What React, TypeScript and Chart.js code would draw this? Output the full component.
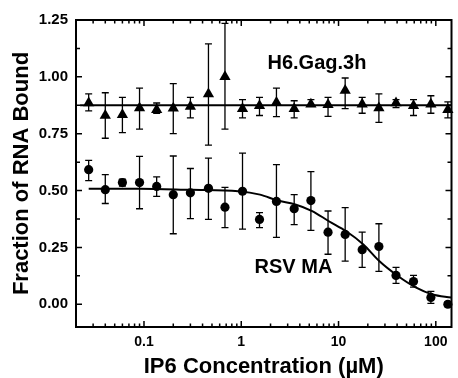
import React, { useEffect, useRef } from "react";
import { Chart, registerables } from "chart.js";

Chart.register(...registerables);

// IP6 concentration (µM) for every measured point
const CONC = [0.027, 0.04, 0.06, 0.09, 0.135, 0.2, 0.3, 0.46, 0.68, 1.03, 1.54, 2.3, 3.5, 5.2, 7.8, 11.7, 17.5, 26, 39, 59, 89, 133];

// H6.Gag.3h (triangles)
const GAG_Y = [0.885, 0.83, 0.833, 0.863, 0.855, 0.862, 0.87, 0.925, 1.0, 0.86, 0.873, 0.887, 0.86, 0.88, 0.877, 0.94, 0.88, 0.863, 0.885, 0.873, 0.88, 0.855];
const GAG_HI = [0.925, 0.93, 0.91, 0.95, 0.885, 0.97, 0.91, 1.145, 1.235, 0.9, 0.91, 0.95, 0.895, 0.9, 0.91, 0.995, 0.91, 0.925, 0.9, 0.9, 0.917, 0.89];
const GAG_LO = [0.85, 0.73, 0.755, 0.77, 0.84, 0.75, 0.82, 0.7, 0.77, 0.82, 0.83, 0.825, 0.82, 0.87, 0.826, 0.86, 0.84, 0.8, 0.865, 0.83, 0.84, 0.82];
const GAG_FIT_X = [0.022, 145];
const GAG_FIT_Y = [0.875, 0.875];

// RSV MA (circles)
const MA_Y = [0.592, 0.504, 0.535, 0.535, 0.518, 0.482, 0.49, 0.51, 0.427, 0.497, 0.373, 0.452, 0.42, 0.456, 0.317, 0.307, 0.24, 0.254, 0.127, 0.1, 0.03, 0.0];
const MA_HI = [0.633, 0.57, 0.55, 0.65, 0.56, 0.652, 0.597, 0.643, 0.514, 0.665, 0.403, 0.614, 0.482, 0.583, 0.41, 0.425, 0.317, 0.354, 0.162, 0.127, 0.057, 0.01];
const MA_LO = [0.544, 0.443, 0.52, 0.42, 0.474, 0.31, 0.377, 0.373, 0.337, 0.33, 0.337, 0.294, 0.35, 0.325, 0.22, 0.19, 0.162, 0.145, 0.092, 0.075, 0.004, -0.01];
const MA_FIT_X = [0.027, 0.09, 0.31, 0.93, 1.56, 2.37, 3.53, 5.36, 7.96, 12.1, 18.0, 26.2, 40.8, 62.1, 92.4, 144];
const MA_FIT_Y = [0.508, 0.508, 0.503, 0.497, 0.482, 0.456, 0.44, 0.41, 0.365, 0.32, 0.263, 0.19, 0.124, 0.074, 0.043, 0.03];

// axes
const X_TICKS = [0.1, 1, 10, 100];
const X_TICK_LABELS = ["0.1", "1", "10", "100"];
const X_MINOR = [0.03, 0.04, 0.05, 0.06, 0.07, 0.08, 0.09, 0.2, 0.3, 0.4, 0.5, 0.6, 0.7, 0.8, 0.9, 2, 3, 4, 5, 6, 7, 8, 9, 20, 30, 40, 50, 60, 70, 80, 90];
const Y_TICKS = [0, 0.25, 0.5, 0.75, 1.0, 1.25];
const Y_TICK_LABELS = ["0.00", "0.25", "0.50", "0.75", "1.00", "1.25"];
const Y_MINOR = [0.125, 0.375, 0.625, 0.875, 1.125];

// annotations
const LABEL_TEXTS = ["H6.Gag.3h", "RSV MA"];
const LABEL_X = [6.0, 3.44];
const LABEL_Y = [1.06, 0.162];

const FONT = "'Liberation Sans', Arial, Helvetica, sans-serif";

const pts = (xs: number[], ys: number[]) => xs.map((x, i) => ({ x, y: ys[i] }));

const errorBarPlugin = {
  id: "errorBars",
  beforeDatasetsDraw(chart: any) {
    const { ctx, scales } = chart;
    const xs = scales.x;
    const ys = scales.y;
    ctx.save();
    ctx.strokeStyle = "#000";
    ctx.lineWidth = 1.3;
    chart.data.datasets.forEach((ds: any) => {
      if (!ds.errLo) return;
      ds.data.forEach((p: any, i: number) => {
        const px = xs.getPixelForValue(p.x);
        const yl = ys.getPixelForValue(ds.errLo[i]);
        const yh = ys.getPixelForValue(ds.errHi[i]);
        ctx.beginPath();
        ctx.moveTo(px, yl);
        ctx.lineTo(px, yh);
        ctx.moveTo(px - 3.5, yl);
        ctx.lineTo(px + 3.5, yl);
        ctx.moveTo(px - 3.5, yh);
        ctx.lineTo(px + 3.5, yh);
        ctx.stroke();
      });
    });
    ctx.restore();
  },
};

const framePlugin = {
  id: "frame",
  afterDatasetsDraw(chart: any) {
    const { ctx, chartArea, scales } = chart;
    const { left, right, top, bottom } = chartArea;
    const xs = scales.x;
    const ys = scales.y;
    ctx.save();
    ctx.strokeStyle = "#000";
    ctx.lineWidth = 2;
    ctx.strokeRect(left, top, right - left, bottom - top);
    ctx.lineWidth = 1.5;
    ctx.beginPath();
    const xTick = (v: number, len: number) => {
      const px = xs.getPixelForValue(v);
      ctx.moveTo(px, bottom);
      ctx.lineTo(px, bottom - len);
      ctx.moveTo(px, top);
      ctx.lineTo(px, top + len);
    };
    const yTick = (v: number, len: number) => {
      const py = ys.getPixelForValue(v);
      ctx.moveTo(left, py);
      ctx.lineTo(left + len, py);
      ctx.moveTo(right, py);
      ctx.lineTo(right - len, py);
    };
    X_TICKS.forEach((v) => xTick(v, 6));
    X_MINOR.forEach((v) => xTick(v, 3.5));
    Y_TICKS.forEach((v) => yTick(v, 6));
    Y_MINOR.forEach((v) => yTick(v, 4));
    ctx.stroke();

    ctx.fillStyle = "#000";
    ctx.font = `bold 20px ${FONT}`;
    ctx.textAlign = "center";
    ctx.textBaseline = "middle";
    LABEL_TEXTS.forEach((t, i) => {
      ctx.fillText(t, xs.getPixelForValue(LABEL_X[i]), ys.getPixelForValue(LABEL_Y[i]));
    });
    ctx.restore();
  },
};

export default function App() {
  const ref = useRef<HTMLCanvasElement | null>(null);

  useEffect(() => {
    if (!ref.current) return;
    const chart = new Chart(ref.current, {
      type: "scatter",
      data: {
        datasets: [
          {
            label: "H6.Gag.3h fit",
            data: pts(GAG_FIT_X, GAG_FIT_Y),
            showLine: true,
            borderColor: "#000",
            borderWidth: 2,
            pointRadius: 0,
          } as any,
          {
            label: "RSV MA fit",
            data: pts(MA_FIT_X, MA_FIT_Y),
            showLine: true,
            borderColor: "#000",
            borderWidth: 2,
            pointRadius: 0,
            cubicInterpolationMode: "monotone",
          } as any,
          {
            label: "H6.Gag.3h",
            data: pts(CONC, GAG_Y),
            errLo: GAG_LO,
            errHi: GAG_HI,
            pointStyle: "triangle",
            pointRadius: 6.5,
            backgroundColor: "#000",
            borderColor: "#000",
            borderWidth: 0,
            clip: false,
          } as any,
          {
            label: "RSV MA",
            data: pts(CONC, MA_Y),
            errLo: MA_LO,
            errHi: MA_HI,
            pointStyle: "circle",
            pointRadius: 4.6,
            backgroundColor: "#000",
            borderColor: "#000",
            borderWidth: 0,
            clip: false,
          } as any,
        ],
      },
      options: {
        animation: false,
        responsive: false,
        layout: { padding: { top: 20, right: 2, left: 0, bottom: 0 } },
        plugins: { legend: { display: false }, tooltip: { enabled: false } },
        scales: {
          x: {
            type: "logarithmic",
            min: 0.02,
            max: 145,
            afterBuildTicks: (s: any) => {
              s.ticks = X_TICKS.map((v) => ({ value: v }));
            },
            afterFit: (s: any) => {
              s.height = 51;
            },
            grid: { display: false, drawTicks: false },
            border: { display: false },
            ticks: {
              padding: 7,
              autoSkip: false,
              maxRotation: 0,
              color: "#000",
              font: { family: FONT, size: 14, weight: "bold" },
              callback: (_v: any, i: number) => X_TICK_LABELS[i],
            },
            title: {
              display: true,
              text: "IP6 Concentration (µM)",
              color: "#000",
              font: { family: FONT, size: 22, weight: "bold", lineHeight: 1 },
              padding: { top: 0, bottom: 0 },
            },
          },
          y: {
            min: -0.1,
            max: 1.25,
            afterBuildTicks: (s: any) => {
              s.ticks = Y_TICKS.map((v) => ({ value: v }));
            },
            afterFit: (s: any) => {
              s.width = 76;
            },
            grid: { display: false, drawTicks: false },
            border: { display: false },
            ticks: {
              padding: 8,
              color: "#000",
              font: { family: FONT, size: 15, weight: "bold" },
              callback: (_v: any, i: number) => Y_TICK_LABELS[i],
            },
            title: {
              display: true,
              text: "Fraction of RNA Bound",
              color: "#000",
              font: { family: FONT, size: 22, weight: "bold", lineHeight: 1 },
              padding: { top: 11, bottom: 0 },
            },
          },
        },
      } as any,
      plugins: [errorBarPlugin, framePlugin],
    });
    return () => chart.destroy();
  }, []);

  return (
    <div style={{ position: "fixed", left: 0, top: 0, width: 458, height: 378, background: "#fff" }}>
      <canvas ref={ref} width={458} height={378} style={{ display: "block" }} />
    </div>
  );
}
